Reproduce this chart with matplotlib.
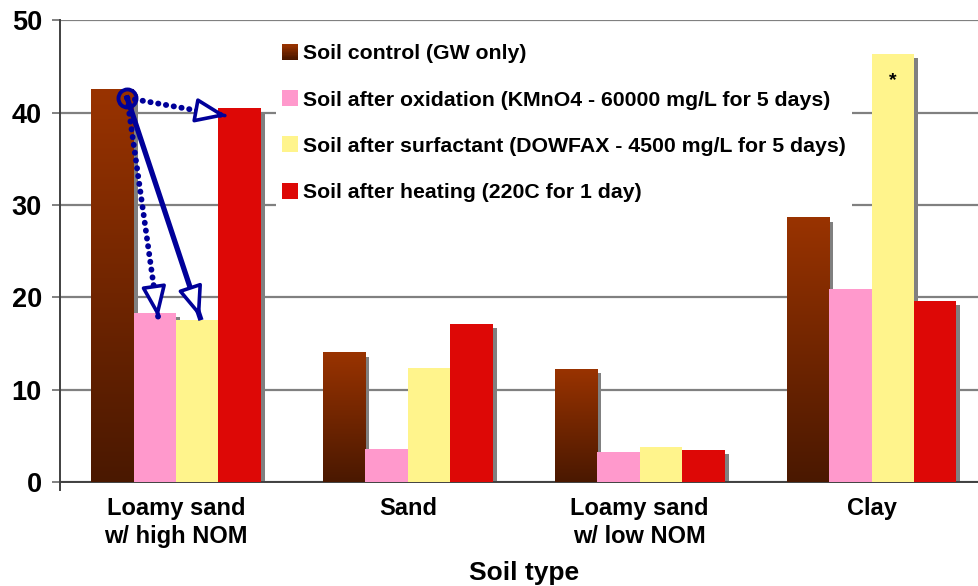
"""Bar chart of soil sorption by soil type and treatment."""

import matplotlib.pyplot as plt
import numpy as np
from matplotlib.colors import LinearSegmentedColormap
from matplotlib.legend_handler import HandlerBase
from matplotlib.patches import Patch, Rectangle

plt.rcParams["font.family"] = ["Liberation Sans", "DejaVu Sans"]
plt.rcParams["font.weight"] = "bold"

soil_types = ["Loamy sand\nw/ high NOM", "Sand", "Loamy sand\nw/ low NOM", "Clay"]
treatments = [
    "Soil control (GW only)",
    "Soil after oxidation (KMnO4 - 60000 mg/L for 5 days)",
    "Soil after surfactant (DOWFAX - 4500 mg/L for 5 days)",
    "Soil after heating (220C for 1 day)",
]
control = [42.5, 14.0, 12.2, 28.6]
oxidation = [18.3, 3.6, 3.25, 20.9]
surfactant = [17.55, 12.35, 3.8, 46.4]
heating = [40.5, 17.1, 3.5, 19.6]

BROWN_TOP = "#993300"
BROWN_BOTTOM = "#4a1800"
PINK = "#ff99cc"
YELLOW = "#fff48c"
RED = "#dd0806"
SHADOW = "#808080"
NAVY = "#000099"

brown_cmap = LinearSegmentedColormap.from_list("brown", [BROWN_BOTTOM, BROWN_TOP])


class GradientHandler(HandlerBase):
    """Legend swatch filled with the vertical brown gradient."""

    def create_artists(self, legend, orig_handle, xdescent, ydescent,
                       width, height, fontsize, trans):
        n = 12
        side = width
        x0 = -xdescent
        y0 = -ydescent + (height - side) / 2
        strips = []
        for i in range(n):
            c = brown_cmap(i / (n - 1))
            r = Rectangle((x0, y0 + side * i / n), side, side / n + 0.3,
                          facecolor=c, edgecolor="none", transform=trans)
            strips.append(r)
        return strips


class SquareHandler(HandlerBase):
    def create_artists(self, legend, orig_handle, xdescent, ydescent,
                       width, height, fontsize, trans):
        side = width
        x0 = -xdescent
        y0 = -ydescent + (height - side) / 2
        r = Rectangle((x0, y0), side, side, facecolor=orig_handle.get_facecolor(),
                      edgecolor="none", transform=trans)
        return [r]


fig = plt.figure(figsize=(9.79, 5.86), dpi=100)
ax = fig.add_axes([60 / 979, 1 - 482 / 586, 927.5 / 979, 461.6 / 586])

x = np.arange(len(soil_types))
width = 0.183
offsets = np.array([-1.5, -0.5, 0.5, 1.5]) * width
series = [control, oxidation, surfactant, heating]
colors = [None, PINK, YELLOW, RED]

# drop shadows (offset 4 px right and down)
dx = 4 / 231.8
dy = 4 / 9.23
for off, vals in zip(offsets, series):
    for xi, v in zip(x, vals):
        ax.add_patch(Rectangle((xi + off - width / 2 + dx, 0), width, v - dy,
                               facecolor=SHADOW, edgecolor="none", zorder=2))

grad = np.linspace(1, 0, 256).reshape(-1, 1)
for off, vals, col in zip(offsets, series, colors):
    for xi, v in zip(x, vals):
        left = xi + off - width / 2
        if col is None:
            ax.imshow(grad, cmap=brown_cmap, aspect="auto", zorder=3,
                      extent=(left, left + width, 0, v), interpolation="bilinear")
        else:
            ax.add_patch(Rectangle((left, 0), width, v, facecolor=col,
                                   edgecolor="none", zorder=3))

ax.set_xlim(-0.5, 3.5)
ax.set_ylim(0, 50)
ax.set_yticks([0, 10, 20, 30, 40, 50])
ax.yaxis.grid(True, color=SHADOW, linewidth=1.6)
ax.set_axisbelow(True)
ax.set_xticks(x)
ax.set_xticklabels(soil_types, fontsize=17, fontweight="bold", linespacing=1.28)
ax.tick_params(axis="x", length=0, pad=11)
ax.tick_params(axis="y", length=6, width=1.4, color=SHADOW, labelsize=19.5, pad=7)
for lab in ax.get_yticklabels():
    lab.set_fontweight("bold")
ax.set_xlabel("Soil type", fontsize=19, fontweight="bold", labelpad=9)

for s in ["top", "right"]:
    ax.spines[s].set_visible(False)
ax.spines["left"].set_color("#404040")
ax.spines["left"].set_linewidth(1.4)
ax.spines["left"].set_bounds(-0.9, 50)
ax.spines["bottom"].set_color("#404040")
ax.spines["bottom"].set_linewidth(1.4)

# asterisk on the surfactant bar for clay
ax.text(x[3] + offsets[2], surfactant[3] - 2.9, "*", ha="center", va="center",
        fontsize=14, fontweight="bold", zorder=5)

# arrows from the control bar to the treated bars
start = (x[0] + offsets[0] + 0.064, 41.6)
targets = [
    ((x[0] + offsets[3] - 0.055, 39.65), ":"),
    ((x[0] + offsets[1] + 0.015, 17.8), ":"),
    ((x[0] + offsets[2] + 0.013, 17.8), "-"),
]
for (tx, ty), ls in targets:
    if ls == ":":
        ax.plot([start[0], tx], [start[1], ty], color=NAVY, lw=4.2,
                linestyle=(0, (0.05, 1.3)), dash_capstyle="round", zorder=6)
    else:
        ax.plot([start[0], tx], [start[1], ty], color=NAVY, lw=3.8, zorder=6)
    bx = tx - 0.02 * (tx - start[0])
    by = ty - 0.02 * (ty - start[1])
    ax.annotate("", xy=(tx, ty), xytext=(bx, by), zorder=7,
                arrowprops=dict(arrowstyle="-|>,head_length=1.9,head_width=0.75",
                                facecolor="white", edgecolor=NAVY, lw=2.6,
                                shrinkA=0, shrinkB=0))
ax.plot(*start, marker="o", markersize=13, mfc="none", mec=NAVY, mew=2.8, zorder=8)

handles = [Patch(facecolor=BROWN_TOP), Patch(facecolor=PINK),
           Patch(facecolor=YELLOW), Patch(facecolor=RED)]
leg = ax.legend(handles, treatments, loc="upper left",
                bbox_to_anchor=((276 - 60) / 927.5, 1 - (38 - 20.4) / 461.6),
                prop={"size": 15.3, "weight": "bold"},
                handler_map={handles[0]: GradientHandler(),
                             handles[1]: SquareHandler(),
                             handles[2]: SquareHandler(),
                             handles[3]: SquareHandler()},
                handlelength=0.75, handletextpad=0.2, labelspacing=1.28,
                borderpad=0.3, borderaxespad=0, frameon=True, fancybox=False)
leg.get_frame().set_facecolor("white")
leg.get_frame().set_edgecolor("none")
leg.get_frame().set_alpha(1)
leg.set_zorder(4)

fig.savefig("out.png", dpi=100)
plt.close(fig)
